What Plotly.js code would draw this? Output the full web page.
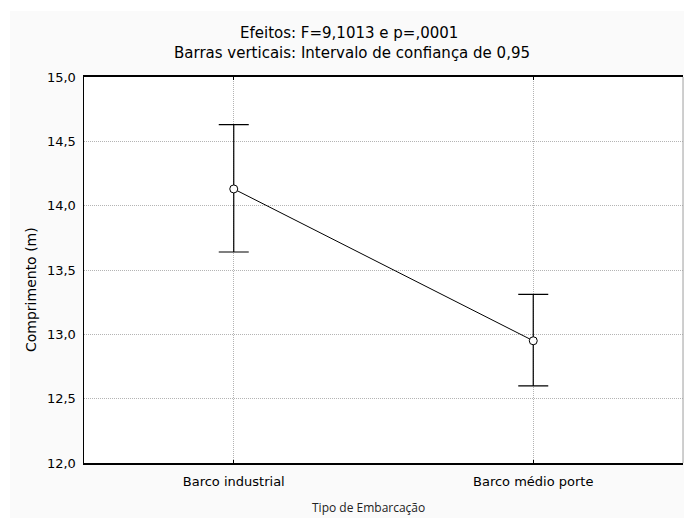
<!DOCTYPE html>
<html>
<head>
<meta charset="utf-8">
<script src="https://cdn.plot.ly/plotly-3.0.1.min.js"></script>
<style>
  html, body { margin: 0; padding: 0; background: #ffffff; }
  #chart { width: 684px; height: 518px; }
</style>
</head>
<body>
<div id="chart"></div>
<script>
// Vessel type vs. mean length, with 95% confidence intervals
const categories = ['Barco industrial', 'Barco médio porte'];
const meanLength = [14.13, 12.95];
const ciUpper = [14.63, 13.31];
const ciLower = [13.64, 12.60];
const yTickValues = [12.0, 12.5, 13.0, 13.5, 14.0, 14.5, 15.0];

const titleLine1 = 'Efeitos: F=9,1013 e p=,0001';
const titleLine2 = 'Barras verticais: Intervalo de confiança de 0,95';
const xTitle = 'Tipo de Embarcação';
const yTitle = 'Comprimento (m)';

const W = 684, H = 518;
const M = { l: 84, r: 1, t: 77, b: 55 };
const plotW = W - M.l - M.r;
const plotH = H - M.t - M.b;
// pixel -> paper coordinate helpers
const px = v => (v - M.l) / plotW;
const py = v => (H - M.b - v) / plotH;

const baseFont = 'DejaVu Sans, Arial, sans-serif';
const gridStyle = { showgrid: true, gridcolor: '#b4b4b4', griddash: '1px,1px', gridwidth: 1 };

const trace = {
  type: 'scatter',
  mode: 'lines+markers',
  x: categories,
  y: meanLength,
  line: { color: '#000000', width: 1 },
  marker: { symbol: 'circle', size: 8, color: '#ffffff', line: { color: '#000000', width: 1 } },
  error_y: {
    type: 'data',
    symmetric: false,
    array: ciUpper.map((u, i) => u - meanLength[i]),
    arrayminus: ciLower.map((l, i) => meanLength[i] - l),
    color: '#000000',
    thickness: 1.2,
    width: 15
  },
  hoverinfo: 'x+y'
};

const layout = {
  width: W,
  height: H,
  margin: M,
  paper_bgcolor: '#fafafa',
  plot_bgcolor: '#ffffff',
  separators: ', ',
  showlegend: false,
  font: { family: baseFont, size: 13, color: '#000000' },
  xaxis: Object.assign({
    type: 'category',
    range: [-0.5, 1.5],
    showline: true, linecolor: '#000000', linewidth: 1.6, mirror: 'ticks',
    ticks: 'inside', ticklen: 3, tickcolor: '#000000', tickwidth: 1,
    zeroline: false,
    tickfont: { family: baseFont, size: 13, color: '#000000' },
    ticklabelstandoff: 6
  }, gridStyle),
  yaxis: Object.assign({
    range: [12, 15],
    tickmode: 'array',
    tickvals: yTickValues,
    tickformat: '.1f',
    showline: true, linecolor: '#000000', linewidth: 1.5, mirror: false,
    ticks: '',
    zeroline: false,
    tickfont: { family: baseFont, size: 13, color: '#000000' },
    ticklabelstandoff: 4
  }, gridStyle),
  shapes: [
    // white strips framing the grey panel
    { type: 'rect', xref: 'paper', yref: 'paper', layer: 'below',
      x0: px(0), x1: px(W), y0: py(0), y1: py(11),
      fillcolor: '#ffffff', line: { width: 0 } },
    { type: 'rect', xref: 'paper', yref: 'paper', layer: 'below',
      x0: px(0), x1: px(10), y0: py(0), y1: py(H),
      fillcolor: '#ffffff', line: { width: 0 } },
    // thin grey right-hand frame of the plot area
    { type: 'line', xref: 'paper', yref: 'paper', layer: 'above',
      x0: 1, x1: 1, y0: 0, y1: 1,
      line: { color: '#a0a0a0', width: 1 } }
  ],
  annotations: [
    { text: titleLine1, xref: 'paper', yref: 'paper', x: px(349), y: py(33),
      xanchor: 'center', yanchor: 'middle', showarrow: false,
      font: { family: baseFont, size: 15, color: '#000000' } },
    { text: titleLine2, xref: 'paper', yref: 'paper', x: px(352), y: py(53),
      xanchor: 'center', yanchor: 'middle', showarrow: false,
      font: { family: baseFont, size: 15, color: '#000000' } },
    { text: xTitle, xref: 'paper', yref: 'paper', x: px(368), y: py(507),
      xanchor: 'center', yanchor: 'middle', showarrow: false,
      font: { family: 'Open Sans, Noto Sans, sans-serif', size: 12, color: '#222222' } },
    { text: yTitle, xref: 'paper', yref: 'paper', x: px(31), y: py(290),
      xanchor: 'center', yanchor: 'middle', showarrow: false, textangle: -90,
      font: { family: baseFont, size: 14, color: '#000000' } }
  ]
};

Plotly.newPlot('chart', [trace], layout, { displayModeBar: false, staticPlot: true });
</script>
</body>
</html>
